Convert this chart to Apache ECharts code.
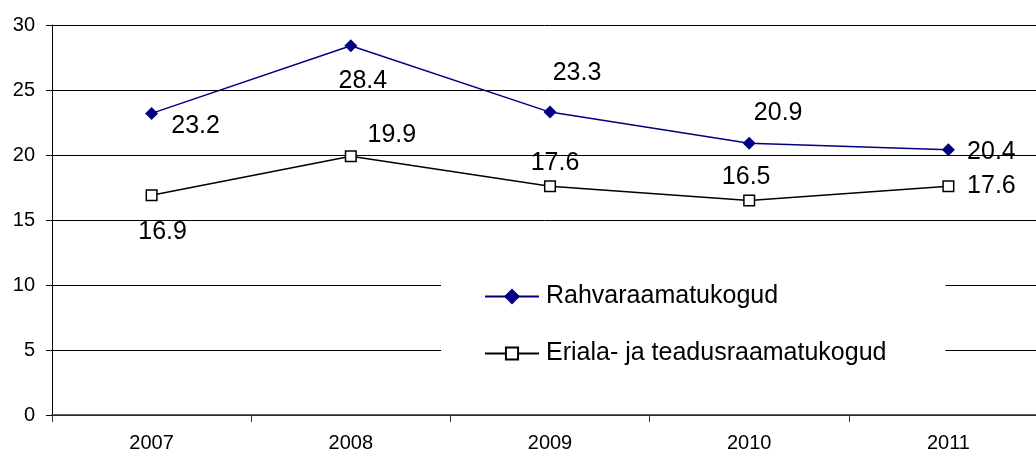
<!DOCTYPE html>
<html>
<head>
<meta charset="utf-8">
<script src="https://cdn.jsdelivr.net/npm/echarts@6/dist/echarts.min.js"></script>
<style>
html,body{margin:0;padding:0;background:#fff;overflow:hidden;}
#chart{width:1036px;height:457px;}
</style>
</head>
<body>
<div id="chart"></div>
<script>
const years = ['2007', '2008', '2009', '2010', '2011'];
const seriesNames = ['Rahvaraamatukogud', 'Eriala- ja teadusraamatukogud'];
const rahvaValues = [23.2, 28.4, 23.3, 20.9, 20.4];
const erialaValues = [16.9, 19.9, 17.6, 16.5, 17.6];
const yTicks = { min: 0, max: 30, interval: 5 };

// label offsets (styling only)
const rahvaOffsets = [[44, 13], [12, 35], [27, -39], [29, -30], [43, 2]];
const erialaOffsets = [[11, 37], [41, -21], [5, -23], [-3, -23], [43, 0]];

const FONT = '"Liberation Sans", Arial, sans-serif';
// square symbol with a little invisible margin so the legend square is not oversized
const SQUARE = 'path://M-1.6,-1.6M0,0L10,0L10,10L0,10Z M11.6,11.6';

function buildData(values, offsets) {
  return values.map((v, i) => ({
    value: v,
    label: { offset: offsets[i] }
  }));
}

const chart = echarts.init(document.getElementById('chart'), null, { renderer: 'canvas' });
chart.setOption({
  animation: false,
  backgroundColor: '#fff',
  textStyle: { fontFamily: FONT },
  grid: { left: 52, right: -12, top: 25, bottom: 42, containLabel: false, outerBoundsMode: 'none' },
  xAxis: {
    type: 'category',
    data: years,
    boundaryGap: true,
    axisLine: { lineStyle: { color: '#333', width: 1.5 } },
    axisTick: { show: true, length: 7, lineStyle: { color: '#333', width: 1 } },
    axisLabel: { color: '#000', fontSize: 20, fontFamily: FONT, margin: 18 },
    splitLine: { show: false }
  },
  yAxis: {
    type: 'value',
    min: yTicks.min,
    max: yTicks.max,
    interval: yTicks.interval,
    axisLine: { show: true, lineStyle: { color: '#000', width: 1 } },
    axisTick: { show: true, length: 6, lineStyle: { color: '#000' } },
    axisLabel: { color: '#000', fontSize: 20, fontFamily: FONT, margin: 17 },
    splitLine: { show: true, lineStyle: { color: '#000', width: 1 } }
  },
  legend: {
    orient: 'vertical',
    left: 441,
    top: 260,
    padding: [24, 59, 26, 43],
    backgroundColor: '#fff',
    itemWidth: 54,
    itemHeight: 20,
    itemGap: 32,
    textStyle: { fontSize: 25, color: '#000', fontFamily: FONT, lineHeight: 25, padding: [0, 0, 0, 2] },
    data: seriesNames
  },
  series: [
    {
      name: seriesNames[0],
      type: 'line',
      data: buildData(rahvaValues, rahvaOffsets),
      symbol: 'diamond',
      symbolSize: 13,
      itemStyle: { color: '#000080' },
      lineStyle: { color: '#000080', width: 1.5 },
      label: {
        show: true,
        position: 'inside',
        fontSize: 25,
        color: '#000',
        fontFamily: FONT,
        formatter: p => p.value.toFixed(1)
      },
      z: 3
    },
    {
      name: seriesNames[1],
      type: 'line',
      data: buildData(erialaValues, erialaOffsets),
      symbol: SQUARE,
      symbolSize: 14,
      itemStyle: { color: '#fff', borderColor: '#000', borderWidth: 1.5 },
      lineStyle: { color: '#000', width: 1.5 },
      label: {
        show: true,
        position: 'inside',
        fontSize: 25,
        color: '#000',
        fontFamily: FONT,
        formatter: p => p.value.toFixed(1)
      },
      z: 3
    }
  ]
});
</script>
</body>
</html>
